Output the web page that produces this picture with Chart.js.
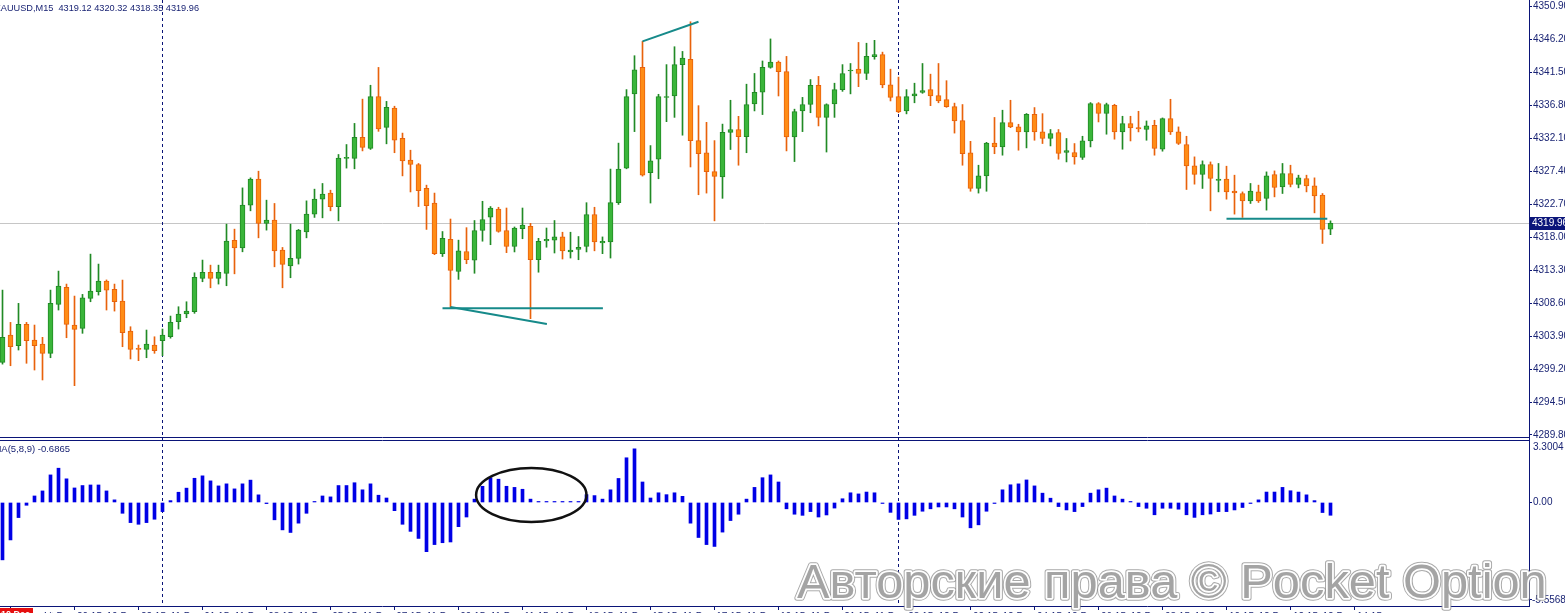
<!DOCTYPE html>
<html><head><meta charset="utf-8">
<script src="https://cdn.jsdelivr.net/npm/chart.js@4.4.1/dist/chart.umd.min.js"></script>
<style>
html,body{margin:0;padding:0;background:#fff;overflow:hidden;width:1565px;height:613px;}
canvas{position:absolute;left:0;}
#c1{top:0;}
#c2{top:438px;}
</style></head><body>
<canvas id="c1" width="1565" height="438"></canvas>
<canvas id="c2" width="1565" height="187"></canvas>
<script>
// ---------------- DATA ----------------
const symbolTitle = 'XAUUSD,M15';
const oscTitle = 'OsMA(5,8,9)';
const opens = [4300.16,4304.05,4302.52,4305.57,4303.33,4302.76,4301.44,4308.42,4310.84,4305.47,
4305.00,4309.27,4310.21,4311.74,4310.55,4308.89,4304.62,4302.15,4302.01,4302.62,
4303.23,4303.80,4305.94,4307.04,4307.36,4312.12,4312.97,4312.12,4312.83,4317.53,
4316.48,4322.56,4326.26,4319.95,4320.42,4316.15,4313.91,4314.97,4318.76,4321.28,
4323.41,4324.27,4322.36,4329.22,4329.22,4332.23,4330.65,4338.02,4333.65,4336.39,
4332.07,4328.97,4328.35,4324.95,4322.86,4315.64,4317.67,4313.10,4315.95,4314.73,
4318.94,4320.83,4322.00,4318.94,4316.66,4319.20,4319.55,4314.78,4317.47,4317.57,
4318.03,4315.89,4316.25,4316.66,4321.23,4317.16,4317.32,4322.91,4327.84,4338.42,
4342.19,4327.19,4329.12,4337.90,4338.12,4342.59,4343.36,4331.76,4330.03,4327.34,
4326.57,4332.94,4333.34,4332.33,4337.00,4338.68,4342.19,4342.95,4341.58,4332.27,
4335.99,4336.90,4339.65,4335.07,4337.00,4339.03,4341.68,4341.94,4341.33,4343.72,
4344.02,4339.70,4338.02,4335.99,4338.12,4338.63,4339.03,4338.17,4337.61,4336.60,
4334.61,4330.03,4324.95,4326.73,4331.39,4330.86,4334.33,4333.71,4333.00,4335.52,
4333.00,4332.06,4332.91,4330.06,4330.06,4329.35,4331.71,4337.04,4335.62,4336.80,
4333.00,4334.19,4333.62,4333.34,4333.95,4330.53,4334.90,4333.00,4331.20,4328.15,
4326.93,4328.35,4326.08,4326.26,4324.55,4324.22,4323.17,4324.45,4323.51,4326.93,
4325.16,4327.07,4325.51,4326.36,4325.31,4323.98,4319.12];
const highs = [4310.45,4305.85,4308.56,4305.85,4305.47,4303.72,4310.45,4313.16,4311.31,4309.60,
4309.84,4315.58,4314.16,4311.90,4311.31,4311.88,4305.23,4302.62,4304.76,4303.80,
4304.90,4306.75,4308.08,4308.79,4312.92,4314.73,4314.01,4314.01,4319.85,4319.14,
4325.02,4326.45,4327.40,4323.27,4322.80,4316.53,4319.85,4319.10,4323.17,4324.84,
4325.65,4324.69,4329.78,4331.20,4334.21,4337.67,4339.65,4342.19,4337.35,4336.66,
4332.83,4330.39,4328.50,4325.41,4324.28,4318.80,4320.58,4317.57,4319.35,4320.37,
4323.11,4322.36,4322.26,4322.15,4319.45,4322.15,4319.97,4317.83,4319.30,4320.37,
4318.70,4318.70,4318.09,4322.91,4322.26,4318.03,4327.70,4331.40,4339.03,4343.86,
4345.90,4331.05,4338.36,4342.59,4345.14,4344.47,4348.70,4336.74,4334.36,4331.76,
4334.11,4337.51,4335.22,4339.80,4341.33,4343.11,4346.25,4343.11,4343.76,4336.24,
4337.92,4340.46,4340.91,4337.00,4339.94,4342.59,4342.75,4345.75,4345.64,4346.05,
4344.37,4341.94,4340.81,4339.03,4339.94,4342.75,4341.23,4342.75,4340.30,4337.10,
4336.90,4331.66,4328.25,4331.51,4335.06,4336.09,4337.51,4334.09,4335.62,4336.47,
4335.60,4333.34,4333.34,4332.06,4331.34,4332.38,4337.18,4337.18,4337.10,4336.94,
4335.23,4335.23,4335.94,4334.56,4334.66,4334.99,4337.65,4333.71,4332.38,4329.44,
4328.87,4328.72,4328.50,4328.11,4326.83,4324.45,4325.65,4325.41,4327.30,4327.44,
4328.50,4328.25,4326.83,4326.83,4326.45,4324.22,4320.32];
const lows = [4299.90,4299.67,4301.91,4300.02,4299.06,4297.64,4300.81,4307.61,4303.66,4296.83,
4304.29,4308.79,4309.74,4307.61,4307.46,4302.38,4300.63,4300.39,4300.81,4301.44,
4301.10,4303.60,4304.90,4306.51,4307.14,4311.64,4310.78,4311.31,4311.07,4312.77,
4315.91,4321.75,4317.90,4319.00,4313.77,4310.78,4312.21,4314.16,4317.90,4320.81,
4320.75,4321.75,4320.32,4327.84,4327.74,4330.29,4330.50,4333.08,4331.30,4330.03,
4326.73,4324.44,4322.36,4319.10,4315.50,4315.24,4307.90,4311.98,4314.21,4312.85,
4317.42,4316.92,4318.70,4315.79,4315.89,4317.77,4306.38,4313.00,4316.56,4315.74,
4314.88,4315.02,4314.78,4315.89,4316.05,4315.64,4315.02,4322.66,4327.74,4333.04,
4326.70,4322.86,4326.32,4334.46,4335.07,4332.53,4328.00,4324.04,4324.28,4320.32,
4323.53,4330.49,4328.25,4330.03,4335.99,4335.47,4342.08,4338.12,4330.29,4328.77,
4333.04,4335.73,4333.85,4330.13,4335.07,4338.78,4338.42,4339.45,4340.46,4343.36,
4339.29,4337.41,4335.73,4335.57,4337.15,4338.50,4336.74,4337.15,4336.50,4332.83,
4328.25,4324.54,4324.28,4324.54,4329.89,4329.68,4333.60,4330.39,4330.72,4331.81,
4331.34,4331.00,4329.11,4328.72,4328.40,4329.07,4330.86,4334.42,4332.67,4331.96,
4330.53,4331.71,4333.00,4331.81,4329.68,4330.25,4332.63,4331.20,4324.79,4325.55,
4324.94,4321.75,4324.45,4323.41,4321.28,4320.81,4322.80,4322.94,4321.85,4323.74,
4324.22,4325.16,4325.02,4324.45,4321.46,4317.10,4318.35];
const closes = [4303.72,4302.38,4305.57,4303.23,4302.52,4301.44,4308.56,4311.02,4305.57,4304.86,
4309.36,4310.31,4311.74,4310.45,4308.79,4304.37,4302.01,4302.01,4302.76,4301.81,
4304.05,4305.85,4307.04,4307.46,4312.26,4312.97,4312.12,4312.97,4317.43,4316.48,
4322.56,4326.26,4319.95,4320.42,4316.05,4314.11,4314.97,4319.00,4321.28,4323.41,
4324.12,4322.34,4329.27,4329.38,4332.23,4330.80,4338.02,4333.44,4336.50,4331.81,
4328.87,4328.35,4324.64,4322.50,4315.64,4317.83,4313.25,4316.05,4314.78,4318.94,
4320.52,4322.15,4318.80,4316.66,4319.30,4319.71,4314.78,4317.42,4317.67,4318.03,
4316.05,4316.15,4316.56,4321.23,4317.32,4317.42,4322.91,4327.70,4338.02,4341.84,
4326.83,4328.87,4338.02,4338.05,4342.59,4343.51,4331.76,4329.88,4327.34,4326.67,
4332.94,4333.34,4332.33,4336.90,4338.63,4342.19,4342.95,4341.58,4332.27,4335.89,
4336.90,4339.65,4335.07,4336.90,4339.03,4341.33,4341.78,4341.33,4343.76,4344.02,
4339.70,4337.92,4335.83,4338.02,4338.42,4338.88,4338.12,4337.41,4336.60,4334.56,
4329.88,4324.95,4326.73,4331.40,4330.85,4334.33,4333.71,4333.00,4335.52,4333.00,
4332.06,4332.77,4329.92,4330.35,4329.44,4331.71,4337.04,4335.62,4336.90,4333.00,
4334.19,4333.57,4333.42,4333.85,4330.63,4334.90,4333.00,4331.34,4328.15,4326.93,
4328.35,4326.36,4326.26,4324.45,4324.31,4323.17,4324.55,4323.17,4326.73,4325.08,
4327.07,4325.51,4326.45,4325.31,4323.88,4319.10,4319.96];
const osma = [-3.08,-2.01,-0.81,-0.15,0.35,0.62,1.48,1.84,1.27,0.78,
0.91,0.94,0.94,0.62,0.14,-0.58,-1.08,-1.17,-1.08,-0.90,
-0.49,0.10,0.55,0.77,1.30,1.43,1.16,0.89,1.00,0.73,
1.00,1.20,0.41,-0.06,-0.93,-1.47,-1.61,-1.11,-0.58,0.05,
0.35,0.30,0.91,0.91,1.06,0.68,1.00,0.39,0.24,-0.44,
-1.17,-1.55,-1.93,-2.64,-2.26,-2.16,-2.12,-1.30,-0.78,0.18,
0.87,1.33,1.25,0.87,0.81,0.71,0.18,0.05,0.05,0.04,
0.05,0.03,0.04,0.42,0.37,0.18,0.68,1.29,2.40,2.88,
1.10,0.24,0.52,0.42,0.52,0.33,-1.11,-1.88,-2.26,-2.36,
-1.59,-0.97,-0.63,0.18,0.81,1.33,1.48,1.10,-0.34,-0.63,
-0.69,-0.49,-0.78,-0.67,-0.30,0.20,0.52,0.46,0.56,0.52,
-0.03,-0.53,-0.91,-0.88,-0.69,-0.47,-0.34,-0.24,-0.24,-0.34,
-0.78,-1.36,-1.20,-0.47,-0.05,0.68,0.95,1.00,1.21,0.89,
0.50,0.23,-0.22,-0.40,-0.49,-0.22,0.50,0.68,0.77,0.35,
0.18,0.03,-0.22,-0.31,-0.66,-0.31,-0.31,-0.36,-0.66,-0.80,
-0.66,-0.62,-0.49,-0.49,-0.40,-0.27,-0.03,0.14,0.56,0.56,
0.81,0.63,0.56,0.41,0.10,-0.54,-0.6865];
const priceTicks = [4350.9,4346.2,4341.5,4336.8,4332.1,4327.4,4322.7,4318.0,4313.3,4308.6,4303.9,4299.2,4294.5,4289.8];
const oscMax = 3.3004, oscMin = -5.5568;
const timeTickIdx = [5,13,21,29,37,45,53,61,69,77,85,93,101,109,117,125,133,141,149,157,165];
const timeLabels = ['10 Dec 20:15','10 Dec 22:15','11 Dec 01:15','11 Dec 03:15','11 Dec 05:15','11 Dec 07:15','11 Dec 09:15',
'11 Dec 11:15','11 Dec 13:15','11 Dec 15:15','11 Dec 17:15','11 Dec 19:15','11 Dec 21:15','11 Dec 23:15',
'12 Dec 02:15','12 Dec 04:15','12 Dec 06:15','12 Dec 08:15','12 Dec 10:15','12 Dec 12:15','12 Dec 14:15'];
const firstBarLabel = '10 Dec 19:00';
const daySeparatorIdx = [20, 112];
const trendStartIdx = [80, 55, 56, 153];
const trendStartPrice = [4345.91, 4307.86, 4308.03, 4320.61];
const trendEndIdx = [87, 75.05, 68.05, 165.6];
const trendEndPrice = [4348.70, 4307.86, 4305.61, 4320.61];
const ellipseIdx = 66.1, ellipseVal = 0.40, ellipseHalfBars = 6.9, ellipseHalfVal = 1.45;
const watermarkText = 'Авторские права © Pocket Option';

// ---------------- STYLE ----------------
const NAVY = '#0a1478';
const TXT = '#1a2474';
const FONT = '"Liberation Sans", Arial, sans-serif';
const xMin = -0.3125, xMax = 190.8125;
const priceMin = 4289.37, priceMax = 4351.80;
const lastIdx = closes.length - 1;
const lastPrice = closes[lastIdx];
const isUp = closes.map((c,i)=> c >= opens[i]);
const bodyFill = isUp.map(u => u ? '#3ab53a' : '#ff8c16');
const bodyBorder = isUp.map(u => u ? '#218a25' : '#e8620c');
Chart.defaults.font.family = FONT;

function vline(ctx, x, y0, y1){ctx.beginPath();ctx.moveTo(x,y0);ctx.lineTo(x,y1);ctx.stroke();}
function hline(ctx, y, x0, x1){ctx.beginPath();ctx.moveTo(x0,y);ctx.lineTo(x1,y);ctx.stroke();}
function noPad(s){ s.paddingTop = 0; s.paddingBottom = 0; s.paddingLeft = 0; s.paddingRight = 0; }

const deco1 = {
  id:'deco1',
  beforeDatasetsDraw(chart){
    const {ctx, chartArea:a, scales:{x,y}} = chart;
    ctx.save();
    ctx.strokeStyle = '#c6c6c6'; ctx.lineWidth = 1;
    hline(ctx, Math.floor(y.getPixelForValue(lastPrice))+0.5, a.left, a.right);
    ctx.strokeStyle = NAVY; ctx.setLineDash([3,3]);
    daySeparatorIdx.forEach(i => vline(ctx, Math.floor(x.getPixelForValue(i))+0.5, 0, a.bottom));
    ctx.restore();
  },
  afterDatasetsDraw(chart){
    const {ctx, chartArea:a, scales:{x,y}} = chart;
    ctx.save();
    ctx.strokeStyle = '#168a8a'; ctx.lineWidth = 2; ctx.lineCap = 'butt';
    for (let k=0;k<trendStartIdx.length;k++){
      ctx.beginPath();
      ctx.moveTo(x.getPixelForValue(trendStartIdx[k]), y.getPixelForValue(trendStartPrice[k]));
      ctx.lineTo(x.getPixelForValue(trendEndIdx[k]), y.getPixelForValue(trendEndPrice[k]));
      ctx.stroke();
    }
    ctx.strokeStyle = NAVY; ctx.lineWidth = 1;
    hline(ctx, a.bottom-0.5, 0, a.right+1);
    ctx.fillStyle = TXT; ctx.font = '9.2px ' + FONT; ctx.textAlign='right'; ctx.textBaseline='middle';
    ctx.fillText(symbolTitle + '  ' + opens[lastIdx].toFixed(2) + ' ' + highs[lastIdx].toFixed(2) + ' ' + lows[lastIdx].toFixed(2) + ' ' + closes[lastIdx].toFixed(2), 199, 8);
    const py = y.getPixelForValue(lastPrice);
    ctx.fillStyle = '#0b157a';
    ctx.fillRect(a.right+1, Math.round(py)-6, 40, 13);
    ctx.fillStyle = '#ffffff'; ctx.textAlign='left'; ctx.font = '10px ' + FONT;
    ctx.fillText(lastPrice.toFixed(2), a.right+3, Math.round(py)+0.5);
    ctx.restore();
  }
};

new Chart(document.getElementById('c1'), {
  type:'bar',
  data:{datasets:[
    {label:'body', data: opens.map((o,i)=>({x:i, y:[o, closes[i]]})), backgroundColor: bodyFill, borderColor: bodyBorder,
     borderWidth:1, borderSkipped:false, barThickness:5, grouped:false, order:0, minBarLength:1},
    {label:'wick', data: lows.map((l,i)=>({x:i, y:[l, highs[i]]})), backgroundColor: bodyBorder,
     borderWidth:0, barThickness:1, grouped:false, order:1}
  ]},
  options:{
    responsive:false, animation:false, events:[],
    layout:{padding:0},
    plugins:{legend:{display:false}, tooltip:{enabled:false}},
    scales:{
      x:{type:'linear', min:xMin, max:xMax, display:false, offset:false},
      y:{type:'linear', position:'right', min:priceMin, max:priceMax,
         afterBuildTicks: s => { s.ticks = priceTicks.map(v=>({value:v})); },
         afterFit: s => { s.width = 36; noPad(s); },
         ticks:{callback: v => Number(v).toFixed(2), color:TXT, font:{size:10}, padding:1, autoSkip:false},
         grid:{drawOnChartArea:false, drawTicks:true, tickLength:3, color:NAVY},
         border:{display:true, color:NAVY}}
    }
  },
  plugins:[deco1]
});

const deco2 = {
  id:'deco2',
  beforeDatasetsDraw(chart){
    const {ctx, chartArea:a, scales:{x,y}} = chart;
    ctx.save();
    ctx.strokeStyle = NAVY; ctx.lineWidth = 1;
    hline(ctx, 2.5, 0, a.right+1);
    vline(ctx, a.right+0.5, 0, a.top);
    ctx.setLineDash([3,3]);
    daySeparatorIdx.forEach(i => vline(ctx, Math.floor(x.getPixelForValue(i))+0.5, 0, a.bottom));
    ctx.restore();
  },
  afterDatasetsDraw(chart){
    const {ctx, chartArea:a, scales:{x,y}} = chart;
    ctx.save();
    const cx = x.getPixelForValue(ellipseIdx), cy = y.getPixelForValue(ellipseVal);
    const rx = Math.abs(x.getPixelForValue(ellipseIdx+ellipseHalfBars)-cx);
    const ry = Math.abs(y.getPixelForValue(ellipseVal+ellipseHalfVal)-cy);
    ctx.strokeStyle = '#111111'; ctx.lineWidth = 2.5;
    ctx.beginPath(); ctx.ellipse(cx, cy, rx, ry, 0, 0, Math.PI*2); ctx.stroke();
    ctx.fillStyle = TXT; ctx.font = '9.5px ' + FONT; ctx.textAlign='right'; ctx.textBaseline='middle';
    ctx.fillText(oscTitle + ' ' + osma[lastIdx].toFixed(4), 70, 11);
    ctx.textAlign='left'; ctx.font = '10px ' + FONT;
    ctx.fillText(oscMax.toFixed(4), a.right+4, 9);
    ctx.fillText(oscMin.toFixed(4), a.right+3, a.bottom-6);
    ctx.strokeStyle = NAVY; ctx.lineWidth = 1;
    hline(ctx, a.bottom-6.5, a.right, a.right+3);
    ctx.fillStyle = '#e50f0f';
    ctx.fillRect(0, a.bottom+2, 33, 14);
    ctx.fillStyle = '#ffffff'; ctx.font = 'bold 9px ' + FONT; ctx.textAlign='left'; ctx.textBaseline='top';
    ctx.fillText(firstBarLabel, 1, a.bottom+4);
    ctx.restore();
  },
  afterDraw(chart){
    const {ctx} = chart;
    ctx.save();
    let fs = 50; ctx.font = fs + 'px ' + FONT;
    const w = ctx.measureText(watermarkText).width;
    fs = fs * 750 / w; ctx.font = fs + 'px ' + FONT;
    ctx.textAlign='left'; ctx.textBaseline='alphabetic'; ctx.lineJoin='round';
    const bx = 797, by = 598 - 438;
    ctx.strokeStyle = 'rgba(140,140,140,0.75)'; ctx.lineWidth = 5.5; ctx.strokeText(watermarkText, bx, by);
    ctx.strokeStyle = '#ffffff'; ctx.lineWidth = 3.5; ctx.strokeText(watermarkText, bx, by);
    ctx.fillStyle = '#a4a4a4'; ctx.fillText(watermarkText, bx, by);
    ctx.restore();
  }
};

new Chart(document.getElementById('c2'), {
  type:'bar',
  data:{datasets:[
    {label:'OsMA', data: osma.map((v,i)=>({x:i, y:v})), backgroundColor:'#0000e6', borderWidth:0,
     barThickness:3, grouped:false, minBarLength:1}
  ]},
  options:{
    responsive:false, animation:false, events:[],
    layout:{padding:{top:3, left:0, right:0, bottom:0}},
    plugins:{legend:{display:false}, tooltip:{enabled:false}},
    scales:{
      x:{type:'linear', position:'bottom', min:xMin, max:xMax, offset:false,
         afterBuildTicks: s => { s.ticks = timeTickIdx.map(v=>({value:v})); },
         afterFit: s => { s.height = 19; noPad(s); },
         ticks:{callback:(v,i)=> timeLabels[i], align:'start', autoSkip:false, maxRotation:0, color:TXT, font:{size:10}, padding:1},
         grid:{drawOnChartArea:false, drawTicks:true, tickLength:4, color:NAVY},
         border:{display:true, color:NAVY}},
      y:{type:'linear', position:'right', min:oscMin, max:oscMax,
         afterBuildTicks: s => { s.ticks = [{value:0}]; },
         afterFit: s => { s.width = 36; noPad(s); },
         ticks:{callback: v => Number(v).toFixed(2), color:TXT, font:{size:10}, padding:1},
         grid:{drawOnChartArea:false, drawTicks:true, tickLength:3, color:NAVY},
         border:{display:true, color:NAVY}}
    }
  },
  plugins:[deco2]
});
</script>
</body></html>
